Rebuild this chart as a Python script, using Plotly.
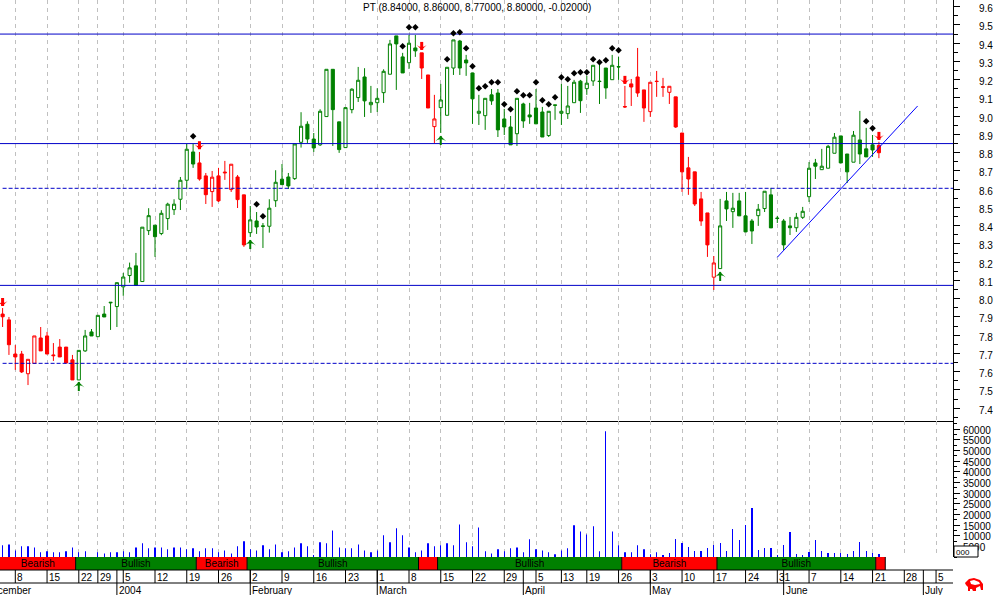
import numpy as np
import plotly.graph_objects as go

W, H = 994, 595
FONT = "Liberation Sans"
GREEN, RED, BLUE, LEVEL_BLUE = "#008000", "#ff0000", "#0000ff", "#0000c8"

title_text = "PT (8.84000, 8.86000, 8.77000, 8.80000, -0.02000)"

bar_index = list(range(-2, 137))

open_ = [7.916,7.884,
 7.697,7.697,7.589,7.646,7.785,7.796,7.692,7.735,7.735,7.665,
 7.555,7.714,7.818,7.792,7.916,7.981,7.957,8.065,8.127,8.180,
 8.094,8.373,8.403,8.357,8.439,8.488,8.545,8.649,8.804,8.744,
 8.673,8.587,8.673,8.694,8.598,8.667,8.569,8.362,8.426,8.399,
 8.397,8.537,8.655,8.667,8.658,8.857,8.956,8.875,8.843,8.998,
 9.257,8.969,8.828,9.036,9.102,9.215,9.063,9.074,9.129,9.230,
 9.440,9.325,9.293,9.374,9.347,9.226,8.943,9.047,9.005,9.264,
 9.412,9.308,9.237,9.016,9.003,9.117,9.127,8.985,8.941,8.904,
 9.067,9.007,9.045,9.023,8.894,9.062,9.016,9.014,9.074,9.192,
 9.151,9.193,9.192,9.264,9.200,9.272,9.053,9.177,9.215,9.144,
 9.025,9.192,9.161,9.131,9.106,8.908,8.717,8.695,8.547,8.470,
 8.118,8.165,8.536,8.477,8.536,8.454,8.426,8.455,8.494,8.569,
 8.442,8.426,8.399,8.389,8.446,8.559,8.744,8.707,8.715,8.797,
 8.892,8.793,8.748,8.870,8.821,8.843,8.84]

high = [7.949,7.900,
 7.746,7.714,7.668,7.796,7.845,7.818,7.757,7.779,7.735,7.692,
 7.717,7.829,7.834,7.909,7.960,7.981,8.088,8.141,8.198,8.251,
 8.392,8.496,8.403,8.485,8.526,8.545,8.667,8.848,8.848,8.804,
 8.689,8.700,8.717,8.755,8.737,8.678,8.569,8.508,8.475,8.415,
 8.545,8.704,8.738,8.689,8.848,9.022,8.972,8.908,9.038,9.257,
 9.257,8.969,9.047,9.153,9.270,9.263,9.166,9.153,9.257,9.418,
 9.440,9.347,9.445,9.445,9.347,9.226,9.117,9.177,9.268,9.418,
 9.418,9.336,9.237,9.117,9.098,9.149,9.149,9.040,9.001,9.098,
 9.074,9.073,9.149,9.051,9.027,9.062,9.177,9.166,9.199,9.199,
 9.221,9.279,9.292,9.264,9.336,9.325,9.166,9.204,9.374,9.144,
 9.186,9.248,9.210,9.164,9.106,8.908,8.777,8.695,8.585,8.470,
 8.234,8.547,8.585,8.580,8.580,8.585,8.437,8.519,8.589,8.607,
 8.454,8.437,8.448,8.470,8.503,8.749,8.766,8.821,8.843,8.908,
 8.892,8.793,8.919,9.029,8.936,8.897,8.86]

low = [7.845,7.692,
 7.610,7.593,7.527,7.646,7.714,7.697,7.659,7.681,7.648,7.555,
 7.555,7.709,7.796,7.792,7.900,7.829,7.845,8.016,8.088,8.073,
 8.094,8.349,8.229,8.348,8.377,8.459,8.486,8.600,8.717,8.647,
 8.519,8.503,8.530,8.651,8.585,8.497,8.284,8.338,8.355,8.278,
 8.362,8.503,8.625,8.601,8.651,8.828,8.852,8.804,8.837,8.998,
 8.837,8.799,8.828,9.016,9.078,8.996,9.018,9.023,9.073,9.230,
 9.144,9.237,9.259,9.325,9.204,9.045,8.852,8.908,9.005,9.226,
 9.226,9.221,8.958,8.952,8.925,9.062,8.886,8.897,8.843,8.837,
 8.936,8.958,8.958,8.886,8.886,8.980,8.952,8.985,9.074,9.018,
 9.117,9.166,9.067,9.095,9.200,9.199,9.045,9.056,9.106,8.969,
 8.996,9.106,9.106,9.067,8.936,8.585,8.569,8.508,8.399,8.229,
 8.048,8.165,8.426,8.388,8.454,8.366,8.300,8.399,8.475,8.388,
 8.415,8.267,8.349,8.366,8.437,8.530,8.656,8.707,8.715,8.797,
 8.744,8.634,8.748,8.738,8.777,8.777,8.77]

close = [7.901,7.748,
 7.681,7.599,7.668,7.796,7.714,7.697,7.688,7.681,7.648,7.555,
 7.717,7.796,7.796,7.909,7.900,7.978,8.088,8.119,8.169,8.073,
 8.392,8.455,8.340,8.468,8.518,8.518,8.649,8.819,8.738,8.656,
 8.570,8.666,8.536,8.690,8.737,8.543,8.295,8.432,8.393,8.397,
 8.496,8.638,8.625,8.618,8.848,8.945,8.875,8.826,9.027,9.257,
 9.036,8.817,9.047,9.148,9.197,9.084,9.076,9.098,9.246,9.396,
 9.396,9.237,9.400,9.358,9.264,9.045,8.985,9.089,9.268,9.418,
 9.264,9.292,9.095,9.027,9.098,9.084,8.925,8.941,8.843,9.098,
 8.974,8.996,8.958,8.886,9.027,9.060,9.027,9.056,9.186,9.085,
 9.181,9.279,9.190,9.155,9.279,9.270,9.051,9.160,9.127,9.045,
 9.186,9.190,9.159,9.164,8.941,8.695,8.656,8.519,8.426,8.295,
 8.196,8.399,8.492,8.496,8.454,8.366,8.371,8.490,8.589,8.388,
 8.440,8.295,8.389,8.446,8.479,8.715,8.726,8.726,8.835,8.885,
 8.744,8.695,8.896,8.793,8.777,8.815,8.80]

volume = [5500,5900,
 3100,5000,5000,4500,2200,2700,2200,2200,2700,4500,
 2200,2700,0,2200,1700,2200,2200,2700,2200,4500,
 6400,4100,4500,4500,3600,4500,4500,3600,4100,2700,
 4100,4100,2200,3100,1700,5000,7400,3600,3100,5500,
 3600,5900,2200,2700,4500,6400,5000,800,6900,6400,
 12500,4500,4100,4100,5900,3100,2200,3100,10200,6900,
 13500,10200,4500,2200,3100,6400,5000,5500,6400,5500,
 15300,6900,5000,13900,2700,1700,3600,2700,4100,4500,
 2200,8300,3600,3100,2200,1300,3100,4100,14900,12000,
 10600,14400,2700,59000,12000,5500,2200,2200,5500,3600,
 1300,2200,900,1900,8500,6600,4700,2800,2800,4200,
 5600,6600,2800,13100,8000,15000,23000,3300,4200,4200,
 900,5600,11700,1400,900,2300,8000,2800,1900,1900,
 1900,1400,2800,7000,2800,1900,1400]

# Horizontal levels and trend line
solid_levels = [9.45, 8.85, 8.073]
dashed_levels = [8.605, 7.646]
trend_x = [120, 142.1]
trend_y = [8.227, 9.056]

# Signals
diamond_x = [28,38,39,61,62,63,68,69,70,71,72,73,74,75,76,77,78,79,80,81,82,83,84,85,
             86,87,88,89,90,91,92,93,94,95,134,135]
diamond_y = [8.890,8.518,8.452,9.383,9.487,9.487,9.312,9.455,9.460,9.372,9.274,9.153,
             9.164,9.186,9.186,9.066,9.038,9.137,9.115,9.115,9.186,9.087,9.066,9.104,
             9.213,9.203,9.236,9.241,9.241,9.312,9.295,9.306,9.372,9.361,8.972,8.934]
buy_x = [10, 37, 67, 111]
buy_y = [7.544, 8.322, 8.892, 8.147]
sell_x = [-2, 29, 64, 96, 136]
sell_y = [7.960, 8.819, 9.363, 9.177, 8.870]

# Trend regimes
regime_edges = [-2.41, 9.5, 28.5, 36.5, 63.5, 66.5, 95.5, 110.5, 135.5, 137]
regime_names = ["Bearish", "Bullish", "Bearish", "Bullish", "", "Bullish", "Bearish", "Bullish", ""]
regime_bull = [False, True, False, True, False, True, False, True, False]

# Date axis
day_idx = [0,5,10,13,17,22,27,32,37,42,47,52,57,62,67,72,77,82,86,90,95,100,105,110,115,120,125,130,135,140,145]
day_lab = ["8","15","22","29","5","12","19","26","2","9","16","23","1","8","15","22","29","5","13","19",
           "26","3","10","17","24","31","7","14","21","28","5"]
month_idx = [16, 37, 57, 80, 100, 121, 143]
month_lab = ["2004", "February", "March", "April", "May", "June", "July"]
dec_end = 2.8
price_ticks = [7.4,7.5,7.6,7.7,7.8,7.9,8.0,8.1,8.2,8.3,8.4,8.5,8.6,8.7,8.8,8.9,9.0,9.1,9.2,9.3,9.4,9.5,9.6]
vol_ticks = list(range(5000, 60001, 5000))

X_RANGE = [-2.41, 147.67]
Y_RANGE = [7.330, 9.6367]
V_RANGE = [0, 63850]

def py(y):
    return 1 - y / H
def px(x):
    return x / W

idx = np.array(bar_index)
edges = np.array(regime_edges)
bull = np.array([regime_bull[np.searchsorted(edges, i) - 1] for i in idx])
arr = lambda a: np.array(a, dtype=float)
O, Hi, Lo, C = arr(open_), arr(high), arr(low), arr(close)

fig = go.Figure()

for mask, col, nm in ((bull, GREEN, "Bullish"), (~bull, RED, "Bearish")):
    fig.add_trace(go.Candlestick(
        x=idx[mask], open=O[mask], high=Hi[mask], low=Lo[mask], close=C[mask],
        name=nm, xaxis="x", yaxis="y", whiskerwidth=0,
        increasing=dict(line=dict(color=col, width=1), fillcolor="white"),
        decreasing=dict(line=dict(color=col, width=1), fillcolor=col),
    ))

for lv in solid_levels:
    fig.add_trace(go.Scatter(x=X_RANGE, y=[lv, lv], mode="lines", xaxis="x", yaxis="y",
                             line=dict(color=LEVEL_BLUE, width=1)))
for lv in dashed_levels:
    fig.add_trace(go.Scatter(x=[-2, X_RANGE[1]], y=[lv, lv], mode="lines", xaxis="x", yaxis="y",
                             line=dict(color=LEVEL_BLUE, width=1, dash="4px,2px")))
fig.add_trace(go.Scatter(x=trend_x, y=trend_y, mode="lines", xaxis="x", yaxis="y",
                         line=dict(color=BLUE, width=1)))

fig.add_trace(go.Scatter(x=diamond_x, y=diamond_y, mode="markers", xaxis="x", yaxis="y",
                         marker=dict(symbol="diamond", size=5, color="black")))
fig.add_trace(go.Scatter(x=buy_x, y=buy_y, mode="markers", xaxis="x", yaxis="y",
                         marker=dict(symbol="arrow-wide", size=8, color=GREEN),
                         error_y=dict(type="data", symmetric=False, array=[0]*4, arrayminus=[0.05]*4,
                                      color=GREEN, thickness=2, width=0)))
fig.add_trace(go.Scatter(x=sell_x, y=sell_y, mode="markers", xaxis="x", yaxis="y",
                         marker=dict(symbol="arrow-wide", angle=180, size=7, color=RED),
                         error_y=dict(type="data", symmetric=False, array=[0.044]*5, arrayminus=[0]*5,
                                      color=RED, thickness=3, width=0)))

fig.add_trace(go.Bar(x=idx, y=volume, width=0.04, xaxis="x2", yaxis="y2",
                     marker=dict(color=BLUE, line=dict(width=0))))

centers = (edges[:-1] + edges[1:]) / 2
widths = np.diff(edges)
fig.add_trace(go.Bar(x=centers, y=[1]*len(centers), width=widths, xaxis="x3", yaxis="y3",
                     marker=dict(color=[GREEN if b else RED for b in regime_bull], line=dict(width=0)),
                     text=regime_names, textposition="inside", insidetextanchor="middle",
                     textangle=0, constraintext="none",
                     textfont=dict(family=FONT, size=10, color="black")))

ax_common = dict(range=X_RANGE, domain=[0, 953 / W], showticklabels=False, ticks="", zeroline=False,
                 fixedrange=True)
grid = dict(showgrid=True, gridcolor="#c0c0c0", gridwidth=1, griddash="4px,4px",
            tickmode="array", tickvals=day_idx)

shapes = []
for yy in (570, 583):
    shapes.append(dict(type="line", xref="paper", yref="paper", x0=0, x1=953/W, y0=py(yy), y1=py(yy),
                       line=dict(color="black", width=1)))
for e in regime_edges[1:]:
    shapes.append(dict(type="line", xref="x", yref="paper", x0=e, x1=e, y0=py(557), y1=py(570),
                       line=dict(color="black", width=1)))
for d in day_idx:
    shapes.append(dict(type="line", xref="x", yref="paper", x0=d, x1=d, y0=py(570), y1=py(583),
                       line=dict(color="black", width=1)))
for m in month_idx:
    shapes.append(dict(type="line", xref="x", yref="paper", x0=m, x1=m, y0=py(570), y1=py(595),
                       line=dict(color="black", width=1)))
# small box over the lowest volume label
shapes.append(dict(type="rect", xref="paper", yref="paper", x0=px(954), x1=px(978), y0=py(557), y1=py(546),
                   fillcolor="white", line=dict(color="black", width=1)))

# bull logo
def pth(points):
    return "M " + " L ".join(f"{px(a):.5f},{py(b):.5f}" for a, b in points) + " Z"
shapes.append(dict(type="path", xref="paper", yref="paper",
                   path=pth([(965,583),(969,579),(974,578),(980,580),(983,584),(983,590),(981,590),(980,586),
                             (976,588),(976,591),(973,591),(972,589),(970,589),(970,591),(968,591),(968,587),(966,585)]),
                   fillcolor=RED, line=dict(color=RED, width=0)))
shapes.append(dict(type="path", xref="paper", yref="paper",
                   path=pth([(970,581),(974,580),(979,582),(980,584),(975,585),(971,584)]),
                   fillcolor="white", line=dict(width=0)))

annots = [dict(text=title_text, xref="paper", yref="paper", x=px(477), y=py(8), showarrow=False,
               xanchor="center", yanchor="middle", font=dict(family=FONT, size=10, color="black"))]
annots.append(dict(text="000", xref="paper", yref="paper", x=px(955), y=py(552), showarrow=False,
                   xanchor="left", yanchor="middle", borderpad=0, font=dict(family=FONT, size=8, color="black")))
for d, t in zip(day_idx, day_lab):
    annots.append(dict(text=t, xref="x", yref="paper", x=d, y=py(577), showarrow=False, xanchor="left",
                       yanchor="middle", xshift=1, borderpad=0, font=dict(family=FONT, size=10, color="black")))
for m, t in zip(month_idx, month_lab):
    annots.append(dict(text=t, xref="x", yref="paper", x=m, y=py(590), showarrow=False, xanchor="left",
                       yanchor="middle", xshift=1, borderpad=0, font=dict(family=FONT, size=10, color="black")))
annots.append(dict(text="December", xref="x", yref="paper", x=dec_end, y=py(590), showarrow=False, xanchor="right",
                   yanchor="middle", borderpad=0, font=dict(family=FONT, size=10, color="black")))

fig.update_layout(
    width=W, height=H, margin=dict(l=0, r=0, t=0, b=0), autosize=False,
    paper_bgcolor="white", plot_bgcolor="white", showlegend=False, hovermode=False,
    boxmode="overlay", boxgap=0.3, barmode="overlay", shapes=shapes, annotations=annots,
    font=dict(family=FONT, size=10, color="black"),
    xaxis=dict(**ax_common, **grid, anchor="y", rangeslider=dict(visible=False),
               showline=True, linecolor="black", linewidth=1),
    xaxis2=dict(**ax_common, **grid, anchor="y2"),
    xaxis3=dict(**ax_common, showgrid=False, anchor="y3"),
    yaxis=dict(domain=[py(421), 1], range=Y_RANGE, side="right", anchor="x", showgrid=False, zeroline=False,
               showline=True, linecolor="black", linewidth=1, ticks="outside", ticklen=6, tickcolor="black",
               tickmode="array", tickvals=price_ticks, tickformat=".1f", ticklabelstandoff=17, ticklabelshift=2,
               tickfont=dict(family=FONT, size=10, color="black"), fixedrange=True,
               minor=dict(ticks="outside", ticklen=4, tickcolor="black", dtick=0.05, tick0=7.4, showgrid=False)),
    yaxis2=dict(domain=[py(557), py(421)], range=V_RANGE, side="right", anchor="x2", showgrid=False, zeroline=False,
                showline=True, linecolor="black", linewidth=1, ticks="outside", ticklen=6, tickcolor="black",
                tickmode="array", tickvals=vol_ticks, ticklabelstandoff=1, ticklabelshift=1, tickformat="d",
                tickfont=dict(family=FONT, size=10, color="black"), fixedrange=True,
                minor=dict(ticks="outside", ticklen=3, tickcolor="black", dtick=2500, tick0=0, showgrid=False)),
    yaxis3=dict(domain=[py(570), py(557)], range=[0, 1], anchor="x3", showgrid=False, zeroline=False,
                showticklabels=False, ticks="", fixedrange=True),
)

fig.write_html("out.html", config={"displayModeBar": False},
               post_script="document.body.style.margin='0';document.body.style.overflow='hidden';")
